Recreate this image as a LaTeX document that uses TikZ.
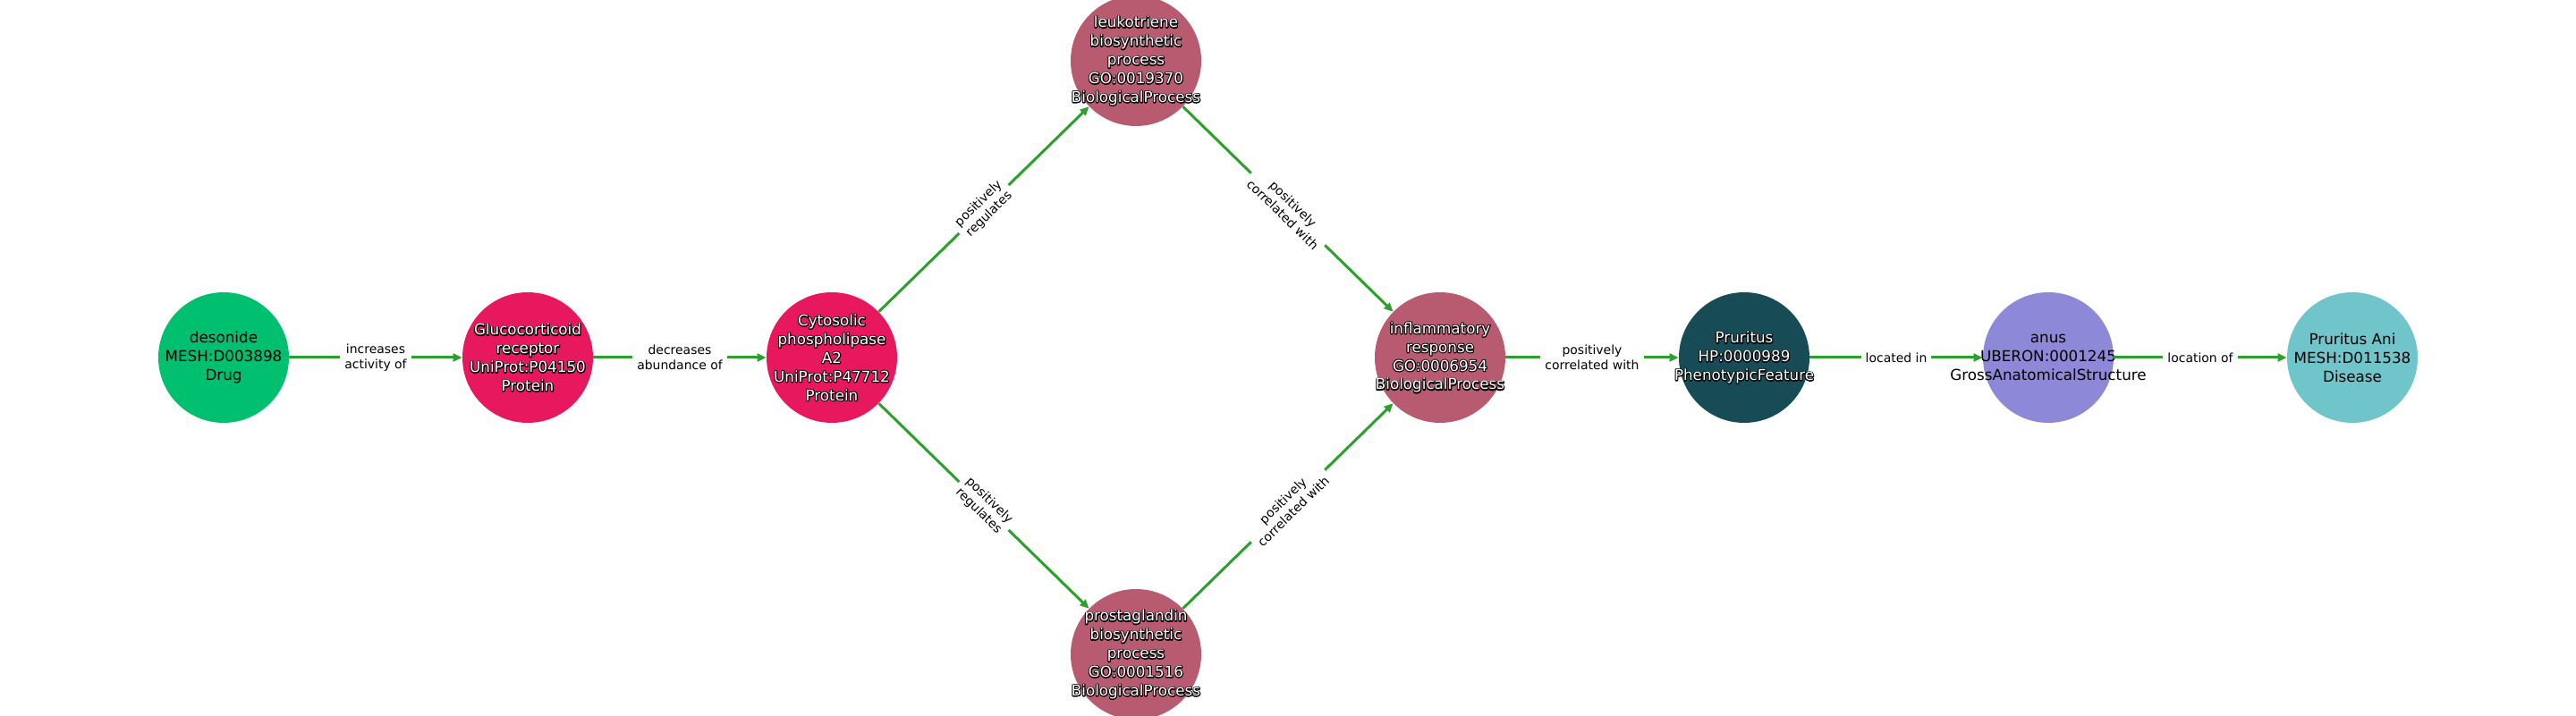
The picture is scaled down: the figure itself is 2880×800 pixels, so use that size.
\documentclass[tikz,border=0pt]{standalone}
\usepackage{fontspec}
\setmainfont{DejaVu Sans}
\usepackage{xcolor}
\usepackage{tikz}
\usetikzlibrary{arrows.meta}
\definecolor{drugC}{RGB}{0,192,111}
\definecolor{protC}{RGB}{232,24,95}
\definecolor{procC}{RGB}{184,90,112}
\definecolor{phenoC}{RGB}{23,76,86}
\definecolor{anatC}{RGB}{142,136,216}
\definecolor{disC}{RGB}{112,197,202}
\definecolor{relC}{RGB}{44,160,44}
\newcommand{\EntFont}{\fontsize{8.4}{10.5}\selectfont}
\tikzset{
  ent/.style={circle, minimum size=73bp, inner sep=0pt},
  drug/.style={ent, fill=drugC},
  prot/.style={ent, fill=protC},
  proc/.style={ent, fill=procC},
  pheno/.style={ent, fill=phenoC},
  anat/.style={ent, fill=anatC},
  dis/.style={ent, fill=disC},
  % text over a circle, allowed to run past its rim
  blabel/.style={align=center, inner sep=0pt, font=\EntFont, text=black},
  olabel/.style={blabel,                      % black rim, stroked glyphs
    execute at begin node=\special{pdf:code 1 Tr 1.1 w 1 j},
    execute at end node=\special{pdf:code 0 Tr}},
  wlabel/.style={blabel, text=white},
  plain/.style={label={[blabel]center:{#1}}},
  outl/.style={label={[olabel]center:{#1}}, label={[wlabel]center:{#1}}},
  rel/.style={draw=relC, line width=1.5bp, -{Triangle[length=5bp,width=4.5bp]}},
  rlabel/.style={fill=white, inner sep=2.5bp, align=center, midway, sloped,
    font=\fontsize{7}{8.4}\selectfont}
}

\begin{document}
\begin{tikzpicture}[x=0.5bp, y=0.5bp]
  \useasboundingbox (0,0) rectangle (2880,800);
  % entities
  \node[drug, plain={desonide\\MESH:D003898\\Drug}] (desonide) at (250,400) {};
  \node[prot, outl={Glucocorticoid\\receptor\\UniProt:P04150\\Protein}] (gr) at (590,400) {};
  \node[prot, outl={Cytosolic\\phospholipase\\A2\\UniProt:P47712\\Protein}] (cpla) at (930,400) {};
  \node[proc, outl={leukotriene\\biosynthetic\\process\\GO:0019370\\BiologicalProcess}] (leuko) at (1270,732) {};
  \node[proc, outl={prostaglandin\\biosynthetic\\process\\GO:0001516\\BiologicalProcess}] (prosta) at (1270,68) {};
  \node[proc, outl={inflammatory\\response\\GO:0006954\\BiologicalProcess}] (infl) at (1610,400) {};
  \node[pheno, outl={Pruritus\\HP:0000989\\PhenotypicFeature}] (prur) at (1950,400) {};
  \node[anat, plain={anus\\UBERON:0001245\\GrossAnatomicalStructure}] (anus) at (2290,400) {};
  \node[dis, plain={Pruritus Ani\\MESH:D011538\\Disease}] (pani) at (2630,400) {};
  % relations
  \foreach \a/\b/\t in {desonide/gr/{increases\\activity of},
      gr/cpla/{decreases\\abundance of},
      cpla/leuko/{positively\\regulates},
      cpla/prosta/{positively\\regulates},
      leuko/infl/{positively\\correlated with},
      prosta/infl/{positively\\correlated with},
      infl/prur/{positively\\correlated with},
      prur/anus/{located in},
      anus/pani/{location of}}
    \draw[rel] (\a) -- node[rlabel] {\t} (\b);
\end{tikzpicture}
\end{document}
